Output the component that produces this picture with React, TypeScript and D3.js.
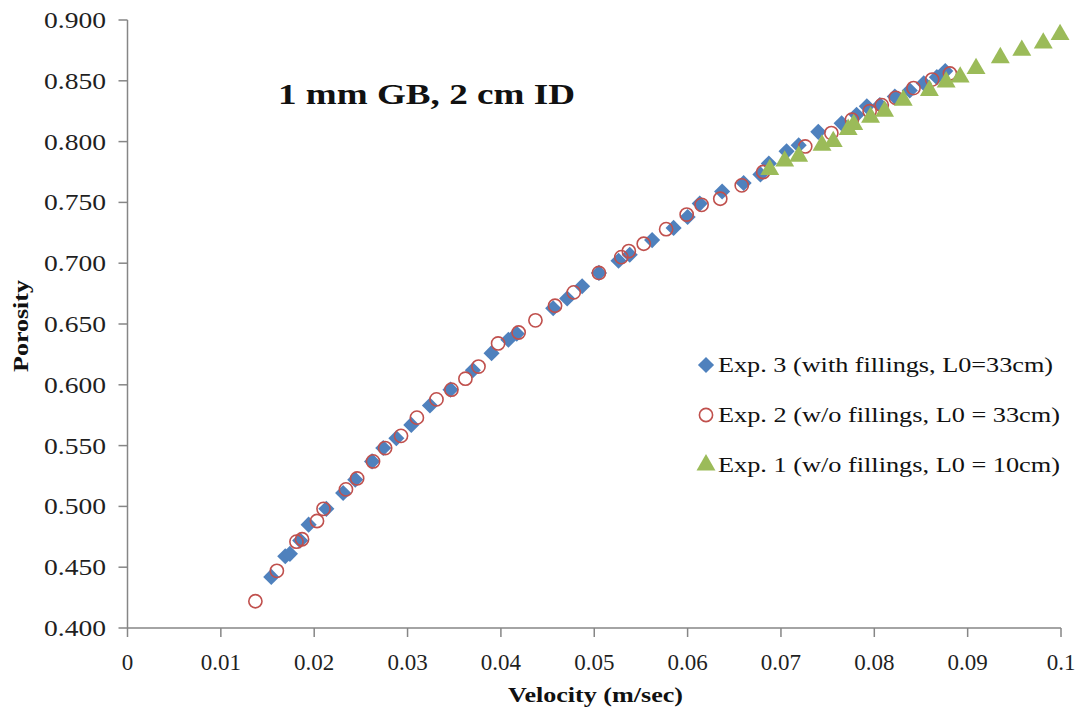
import React from "react";
import * as d3 from "d3";

// Exp. 3 – with fillings, L0 = 33 cm  (velocity m/s, porosity)
const exp3Velocity = [
  0.0154, 0.0169, 0.0174, 0.0185, 0.0194, 0.0213, 0.0231, 0.0244, 0.0262, 0.0274,
  0.0288, 0.0304, 0.0324, 0.0346, 0.037, 0.039, 0.0408, 0.0417, 0.0456, 0.0471,
  0.0487, 0.0505, 0.0526, 0.0538, 0.0562, 0.0585, 0.06, 0.0613, 0.0637, 0.066,
  0.0678, 0.0687, 0.0706, 0.0719, 0.074, 0.0765, 0.0781, 0.0792, 0.0806, 0.0822,
  0.0838, 0.0853, 0.0867, 0.0876,
];
const exp3Porosity = [
  0.442, 0.459, 0.461, 0.472, 0.485, 0.498, 0.511, 0.522, 0.537, 0.548,
  0.556, 0.567, 0.583, 0.596, 0.612, 0.626, 0.637, 0.642, 0.663, 0.671,
  0.681, 0.692, 0.702, 0.707, 0.719, 0.729, 0.738, 0.749, 0.759, 0.766,
  0.773, 0.782, 0.792, 0.797, 0.808, 0.815, 0.822, 0.829, 0.83, 0.837,
  0.842, 0.848, 0.853, 0.858,
];

// Exp. 2 – without fillings, L0 = 33 cm
const exp2Velocity = [
  0.0137, 0.016, 0.0181, 0.0187, 0.0203, 0.021, 0.0234, 0.0246, 0.0263, 0.0276,
  0.0293, 0.031, 0.0331, 0.0347, 0.0362, 0.0376, 0.0397, 0.0419, 0.0437, 0.0458,
  0.0478, 0.0505, 0.0529, 0.0537, 0.0553, 0.0577, 0.0599, 0.0615, 0.0635, 0.0658,
  0.0681, 0.0726, 0.0754, 0.0776, 0.0795, 0.0808, 0.0823, 0.0842, 0.0862, 0.0881,
];
const exp2Porosity = [
  0.422, 0.447, 0.471, 0.473, 0.488, 0.498, 0.514, 0.523, 0.537, 0.548,
  0.558, 0.573, 0.588, 0.596, 0.605, 0.615, 0.634, 0.643, 0.653, 0.665,
  0.676, 0.692, 0.705, 0.71, 0.716, 0.728, 0.74, 0.748, 0.753, 0.764,
  0.775, 0.796, 0.807, 0.818, 0.825, 0.83, 0.836, 0.844, 0.851, 0.856,
];

// Exp. 1 – without fillings, L0 = 10 cm
const exp1Velocity = [
  0.0688, 0.0704, 0.0719, 0.0744, 0.0756, 0.0772, 0.0778, 0.0796, 0.0811, 0.0831,
  0.0859, 0.0877, 0.0892, 0.0909, 0.0935, 0.0958, 0.0981, 0.0999,
];
const exp1Porosity = [
  0.777, 0.784, 0.788, 0.797, 0.8, 0.81, 0.814, 0.82, 0.825, 0.834,
  0.842, 0.849, 0.853, 0.86, 0.869, 0.875, 0.881, 0.888,
];

const xTicks = [0, 0.01, 0.02, 0.03, 0.04, 0.05, 0.06, 0.07, 0.08, 0.09, 0.1];
const yTicks = [0.4, 0.45, 0.5, 0.55, 0.6, 0.65, 0.7, 0.75, 0.8, 0.85, 0.9];

const legendLabels = [
  "Exp. 3 (with fillings, L0=33cm)",
  "Exp. 2 (w/o fillings, L0 = 33cm)",
  "Exp. 1 (w/o fillings, L0 = 10cm)",
];

const BLUE = "#4F81BD";
const RED = "#C0504D";
const GREEN = "#9BBB59";
const AXIS = "#868686";
const SERIF = "'Liberation Serif', 'Times New Roman', serif";

const W = 1082;
const H = 715;

const x = d3.scaleLinear().domain([0, 0.1]).range([127.5, 1061]);
const y = d3.scaleLinear().domain([0.4, 0.9]).range([628, 20]);

const diamondPath = d3.symbol().type(d3.symbolSquare).size(130)() as string;
const trianglePath = d3.symbol().type(d3.symbolTriangle).size(155)() as string;

const zip = (xs: number[], ys: number[]) => xs.map((v, i) => [v, ys[i]] as [number, number]);

function Diamond({ cx, cy }: { cx: number; cy: number }) {
  return <path d={diamondPath} transform={`translate(${cx},${cy}) rotate(45)`} fill={BLUE} />;
}
function Ring({ cx, cy }: { cx: number; cy: number }) {
  return <circle cx={cx} cy={cy} r={6.6} fill="none" stroke={RED} strokeWidth={1.6} />;
}
function Triangle({ cx, cy }: { cx: number; cy: number }) {
  return <path d={trianglePath} transform={`translate(${cx},${cy})`} fill={GREEN} />;
}

export default function App() {
  const exp3 = zip(exp3Velocity, exp3Porosity);
  const exp2 = zip(exp2Velocity, exp2Porosity);
  const exp1 = zip(exp1Velocity, exp1Porosity);
  const fmtX = (v: number) => (v === 0 ? "0" : v === 0.1 ? "0.1" : d3.format(".2f")(v));
  const fmtY = d3.format(".3f");
  const [x0, x1] = x.range();
  const [y0, y1] = y.range();

  return (
    <svg
      width={W}
      height={H}
      viewBox={`0 0 ${W} ${H}`}
      style={{ position: "absolute", left: 0, top: 0, background: "#fff" }}
    >
      <rect width={W} height={H} fill="#fff" />

      {/* axes */}
      <line x1={x0} x2={x0} y1={y1} y2={y0} stroke={AXIS} strokeWidth={1.5} />
      <line x1={x0} x2={x1} y1={y0} y2={y0} stroke={AXIS} strokeWidth={1.5} />
      {yTicks.map((t) => (
        <g key={`y${t}`}>
          <line x1={x0 - 9} x2={x0} y1={y(t)} y2={y(t)} stroke={AXIS} strokeWidth={1.5} />
          <text
            x={106}
            y={y(t) + 8}
            textAnchor="end"
            fontFamily={SERIF}
            fontSize={23}
            fill="#1f1f1f"
            textLength={62}
            lengthAdjust="spacingAndGlyphs"
          >
            {fmtY(t)}
          </text>
        </g>
      ))}
      {xTicks.map((t) => (
        <g key={`x${t}`}>
          <line x1={x(t)} x2={x(t)} y1={y0} y2={y0 + 9} stroke={AXIS} strokeWidth={1.5} />
          <text x={x(t)} y={670} textAnchor="middle" fontFamily={SERIF} fontSize={23} fill="#1f1f1f">
            {fmtX(t)}
          </text>
        </g>
      ))}

      {/* axis titles */}
      <text
        x={595.5}
        y={702}
        textAnchor="middle"
        fontFamily={SERIF}
        fontWeight="bold"
        fontSize={21}
        fill="#111"
        textLength={175}
        lengthAdjust="spacingAndGlyphs"
      >
        Velocity (m/sec)
      </text>
      <text
        transform={`translate(28,326) rotate(-90)`}
        textAnchor="middle"
        fontFamily={SERIF}
        fontWeight="bold"
        fontSize={21}
        fill="#111"
        textLength={92}
        lengthAdjust="spacingAndGlyphs"
      >
        Porosity
      </text>

      {/* chart title */}
      <text
        x={278}
        y={104}
        fontFamily={SERIF}
        fontWeight="bold"
        fontSize={30}
        fill="#111"
        textLength={297}
        lengthAdjust="spacingAndGlyphs"
      >
        1 mm GB, 2 cm ID
      </text>

      {/* data */}
      <g>
        {exp3.map(([v, p], i) => (
          <Diamond key={`d${i}`} cx={x(v)} cy={y(p)} />
        ))}
      </g>
      <g>
        {exp2.map(([v, p], i) => (
          <Ring key={`c${i}`} cx={x(v)} cy={y(p)} />
        ))}
      </g>
      <g>
        {exp1.map(([v, p], i) => (
          <Triangle key={`t${i}`} cx={x(v)} cy={y(p)} />
        ))}
      </g>

      {/* legend */}
      <g>
        <Diamond cx={706} cy={365} />
        <Ring cx={706} cy={415} />
        <Triangle cx={706} cy={465} />
        {legendLabels.map((label, i) => (
          <text
            key={label}
            x={718}
            y={372 + i * 50}
            fontFamily={SERIF}
            fontSize={22}
            fill="#111"
            textLength={i === 0 ? 335 : 342}
            lengthAdjust="spacingAndGlyphs"
          >
            {label}
          </text>
        ))}
      </g>
    </svg>
  );
}
